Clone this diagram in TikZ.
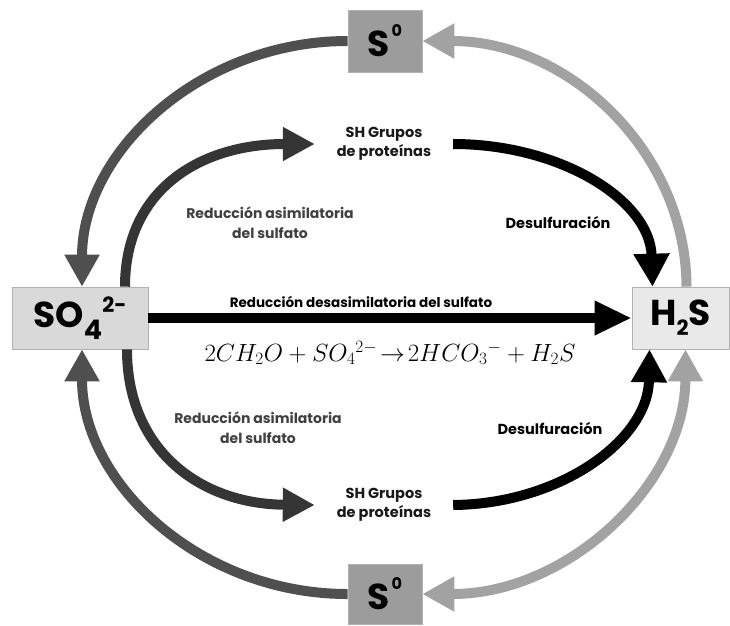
\documentclass[tikz,border=0pt]{standalone}
\usepackage{fontspec}
\newfontfamily\pop{Poppins}
\usetikzlibrary{arrows.meta}
\begin{document}
\begin{tikzpicture}[x=1pt,y=-1pt,
  box/.style={draw=black!30, line width=0.6pt, inner sep=0pt, minimum height=62pt,
    font=\pop\bfseries\fontsize{36}{36}\selectfont},
  lbl/.style={font=\pop\bfseries\fontsize{13.5}{19}\selectfont, align=center, inner sep=0pt},
  lblbig/.style={lbl, font=\pop\bfseries\fontsize{14.5}{19}\selectfont},
  flow/.style={line width=10pt},
  headO/.style={-{Triangle[width=33pt,length=32pt]}},
  headI/.style={-{Triangle[width=32pt,length=32pt]}},
  headB/.style={-{Triangle[width=34pt,length=33pt]}}
]
\useasboundingbox (0,0) rectangle (730,625);
\definecolor{outL}{HTML}{4F4F4F}
\definecolor{inL}{HTML}{353535}
\definecolor{outR}{HTML}{A2A2A2}
\definecolor{boxA}{HTML}{D9D9D9}
\definecolor{boxB}{HTML}{E9E9E9}
\definecolor{boxS}{HTML}{9C9C9C}

% nodes
\node[box, fill=boxA, minimum width=136pt] (SO4) at (80,318)
  {SO\raisebox{-0.33em}{\fontsize{27}{27}\selectfont 4}\raisebox{0.42em}{\fontsize{21}{21}\selectfont 2-}};
\node[box, fill=boxB, minimum width=97pt] (H2S) at (680.5,318)
  {H\raisebox{-0.28em}{\fontsize{21}{21}\selectfont 2}S};
\node[box, fill=boxS, minimum width=74pt] (S0t) at (385,41)
  {S\kern1.5pt\raisebox{0.55em}{\fontsize{16}{16}\selectfont 0}};
\node[box, fill=boxS, minimum width=74pt, minimum height=60pt] (S0b) at (385,594)
  {S\kern1.5pt\raisebox{0.55em}{\fontsize{16}{16}\selectfont 0}};

\node[lblbig, text=black!90, minimum width=138pt] (SHt) at (384,144) {SH Grupos\\de proteínas};
\node[lblbig, text=black!90, minimum width=138pt] (SHb) at (384,505) {SH Grupos\\de proteínas};

\node[lbl, font=\pop\bfseries\fontsize{14}{20}\selectfont, text=black!75] (RAt) at (270,223) {Reducción asimilatoria\\del sulfato};
\node[lbl, font=\pop\bfseries\fontsize{14}{20}\selectfont, text=black!75] (RAb) at (258,428) {Reducción asimilatoria\\del sulfato};
\node[lblbig] (DSt) at (558,223) {Desulfuración};
\node[lblbig] (DSb) at (550,428) {Desulfuración};
\node[lbl] (RD) at (361,302) {Reducción desasimilatoria del sulfato};
\node[font=\fontsize{23}{23}\selectfont, inner sep=0pt] (EQ) at (390,353)
  {$2CH_2O+SO_4{}^{2-}\!\rightarrow\! 2HCO_3{}^{-}+H_2S$};

% main arrow
\draw[flow, -{Triangle[width=32pt,length=37pt]}] (SO4.east) -- (H2S.west);

% outer arcs
\draw[flow, outL, headO] (S0t.west) .. controls (201,41) and (82,151) .. ([xshift=2pt]SO4.north);
\draw[flow, outR, headO] ([xshift=6pt]H2S.north) .. controls (686,151) and (568,41) .. (S0t.east);
\draw[flow, outL, headO] (S0b.west) .. controls (201,594) and (82,484) .. ([xshift=2pt]SO4.south);
\draw[flow, outR, {Triangle[width=33pt,length=32pt]}-{Triangle[width=33pt,length=32pt]}]
  (S0b.east) .. controls (568,594) and (685,484) .. ([xshift=5pt]H2S.south);

% inner arcs
\draw[flow, inL, headI] ([xshift=45pt]SO4.north) .. controls (125,190) and (200,144) .. (SHt.west);
\draw[flow, inL, headI] ([xshift=47pt]SO4.south) .. controls (127,450) and (200,504) .. (SHb.west);
\draw[flow, black, headB] (SHt.east) .. controls (560,144) and (650,200) .. ([xshift=-28pt]H2S.north);
\draw[flow, black, headB] (SHb.east) .. controls (560,504) and (648,440) .. ([xshift=-31pt]H2S.south);
\end{tikzpicture}
\end{document}
